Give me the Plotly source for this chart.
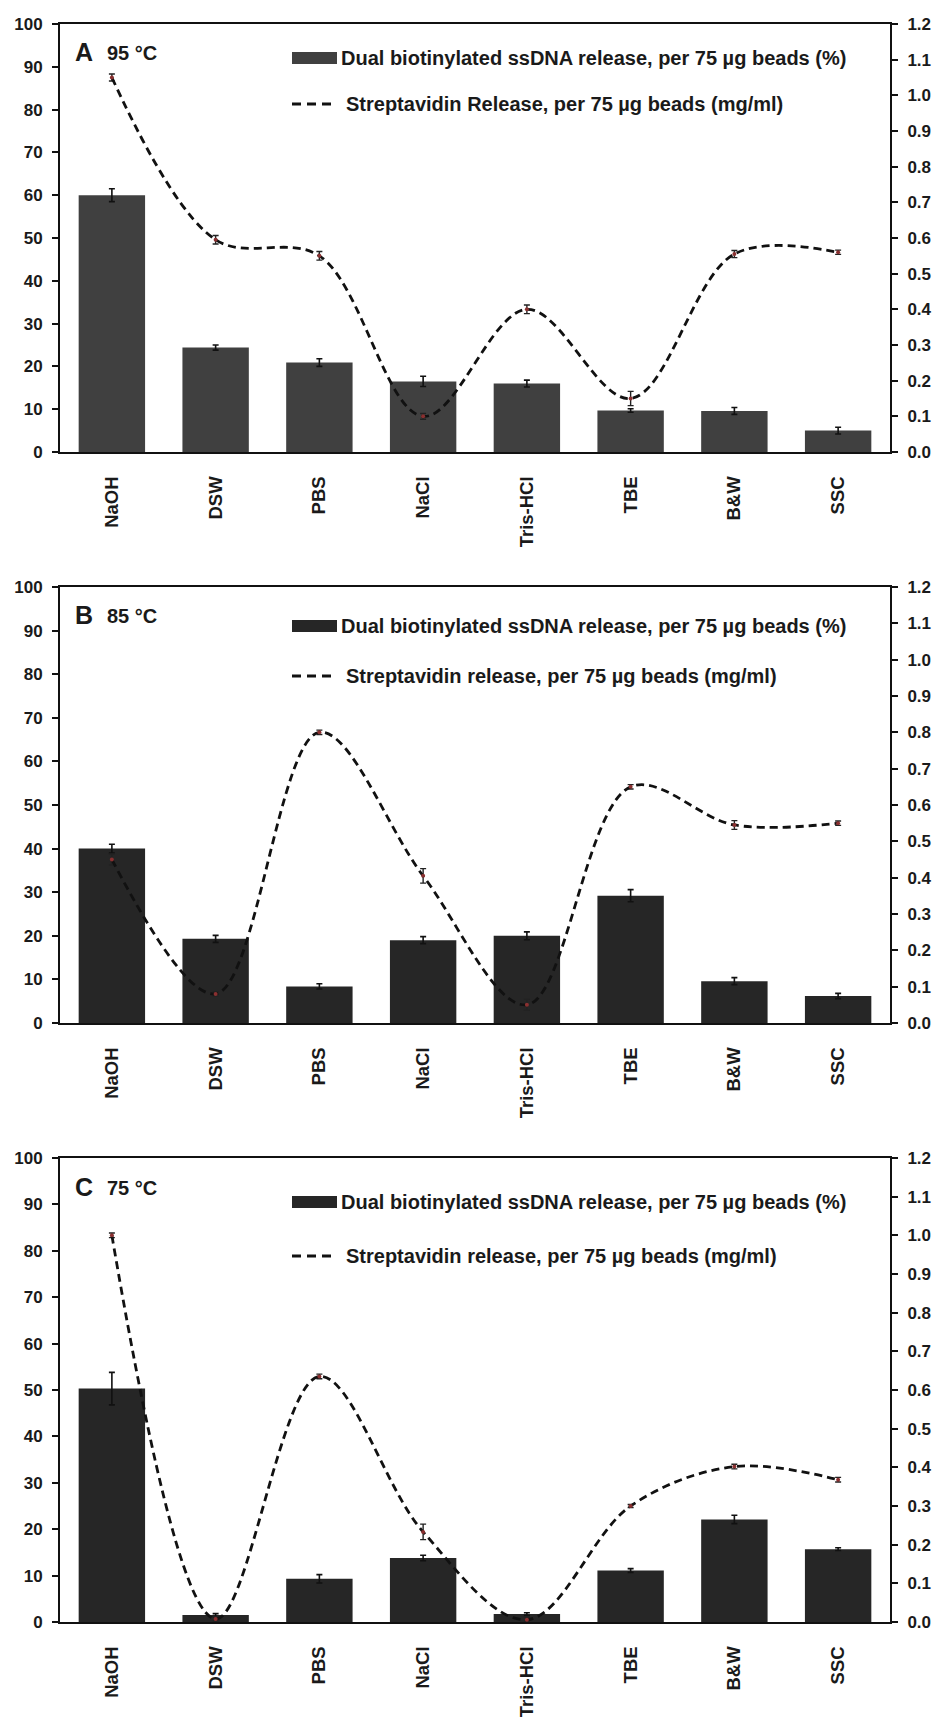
import plotly.graph_objects as go

W, H = 941, 1720

categories = ["NaOH", "DSW", "PBS", "NaCl", "Tris-HCl", "TBE", "B&W", "SSC"]

# Panel A (95 °C)
dna_A = [60.0, 24.4, 20.9, 16.5, 16.0, 9.7, 9.6, 5.0]
dna_A_err = [1.5, 0.6, 0.9, 1.2, 0.8, 0.4, 0.8, 0.8]
strep_A = [1.05, 0.595, 0.55, 0.10, 0.40, 0.15, 0.555, 0.56]
strep_A_err = [0.01, 0.012, 0.012, 0.008, 0.012, 0.02, 0.01, 0.006]

# Panel B (85 °C)
dna_B = [40.0, 19.3, 8.4, 19.0, 20.0, 29.2, 9.6, 6.2]
dna_B_err = [1.0, 0.8, 0.6, 0.8, 0.9, 1.4, 0.8, 0.6]
strep_B = [0.45, 0.08, 0.80, 0.405, 0.05, 0.65, 0.545, 0.55]
strep_B_err = [0.015, 0.006, 0.006, 0.02, 0.015, 0.006, 0.012, 0.006]

# Panel C (75 °C)
dna_C = [50.3, 1.5, 9.3, 13.8, 1.7, 11.1, 22.1, 15.7]
dna_C_err = [3.5, 0.3, 0.9, 0.6, 0.3, 0.4, 0.9, 0.3]
strep_C = [1.0, 0.008, 0.635, 0.233, 0.006, 0.30, 0.402, 0.368]
strep_C_err = [0.006, 0.006, 0.006, 0.02, 0.006, 0.004, 0.006, 0.006]

left_ticks = [0, 10, 20, 30, 40, 50, 60, 70, 80, 90, 100]
right_ticks = [0.0, 0.1, 0.2, 0.3, 0.4, 0.5, 0.6, 0.7, 0.8, 0.9, 1.0, 1.1, 1.2]
right_tick_text = [f"{v:.1f}" for v in right_ticks]

panel_letters = ["A", "B", "C"]
panel_temps = ["95 °C", "85 °C", "75 °C"]
legend_bar_text = "Dual biotinylated ssDNA release, per 75 µg beads (%)"
legend_line_texts = [
    "Streptavidin Release, per 75 µg beads (mg/ml)",
    "Streptavidin release, per 75 µg beads (mg/ml)",
    "Streptavidin release, per 75 µg beads (mg/ml)",
]

FONT = "Arial, 'Liberation Sans', Helvetica, sans-serif"
INK = "#1a1a1a"

def px_x(x):
    return x / W

def px_y(y):
    return 1 - y / H

# plot areas in pixels (top, bottom)
panels_px = [(24, 452), (587, 1023), (1158, 1622)]
x_left, x_right = 60, 890
bar_colors = ["#404040", "#262626", "#262626"]
legend_rows = [(58, 104), (626, 676), (1202, 1256)]
label_y = [52, 615, 1187]

datasets = [
    (dna_A, dna_A_err, strep_A, strep_A_err),
    (dna_B, dna_B_err, strep_B, strep_B_err),
    (dna_C, dna_C_err, strep_C, strep_C_err),
]

fig = go.Figure()
layout = dict(
    width=W, height=H,
    margin=dict(l=0, r=0, t=0, b=0),
    paper_bgcolor="white", plot_bgcolor="white",
    showlegend=False,
    font=dict(family=FONT, color=INK),
    shapes=[], annotations=[],
)

for i, (dna, dna_err, strep, strep_err) in enumerate(datasets):
    n = i + 1
    xa = "x" if n == 1 else f"x{n}"
    ya_p = f"y{2*n-1}" if n > 1 else "y"
    ya_s = f"y{2*n}"
    top, bot = panels_px[i]
    ydom = [px_y(bot), px_y(top)]
    xdom = [px_x(x_left), px_x(x_right)]

    fig.add_trace(go.Bar(
        x=categories, y=dna, xaxis=xa, yaxis=ya_p,
        marker=dict(color=bar_colors[i], line=dict(width=0)),
        width=0.64,
        error_y=dict(type="data", array=dna_err, color="#111111", thickness=1.6, width=3),
        name=legend_bar_text,
    ))
    fig.add_trace(go.Scatter(
        x=categories, y=strep, xaxis=xa, yaxis=ya_s,
        mode="lines+markers",
        line=dict(color="#111111", width=2.8, dash="8px,5px", shape="spline", smoothing=1.0),
        marker=dict(size=4, color="#8a3030"),
        error_y=dict(type="data", array=strep_err, color="#222222", thickness=1.4, width=3),
        name=legend_line_texts[i],
    ))

    xkey = "xaxis" if n == 1 else f"xaxis{n}"
    ykey_p = "yaxis" if n == 1 else f"yaxis{2*n-1}"
    ykey_s = f"yaxis{2*n}"

    layout[xkey] = dict(
        domain=xdom, anchor=ya_p, type="category",
        showline=True, linewidth=2, linecolor="#111111", mirror=True,
        ticks="", showgrid=False, zeroline=False,
        tickangle=-90, ticklabelstandoff=15,
        tickfont=dict(family=FONT, size=18.5, color=INK, weight="bold"),
        automargin=False, fixedrange=True,
    )
    layout[ykey_p] = dict(
        domain=ydom, anchor=xa, range=[0, 100],
        tickvals=left_ticks, ticktext=[str(v) for v in left_ticks],
        showline=True, linewidth=2, linecolor="#111111",
        ticks="outside", ticklen=6, tickwidth=2, tickcolor="#111111",
        ticklabelstandoff=6,
        showgrid=False, zeroline=False,
        tickfont=dict(family=FONT, size=17, color=INK, weight="bold"),
        automargin=False, fixedrange=True,
    )
    layout[ykey_s] = dict(
        domain=ydom, anchor=xa, overlaying=ya_p, side="right", range=[0, 1.2],
        tickvals=right_ticks, ticktext=right_tick_text,
        showline=True, linewidth=2, linecolor="#111111",
        ticks="outside", ticklen=6, tickwidth=2, tickcolor="#111111",
        ticklabelstandoff=6,
        showgrid=False, zeroline=False,
        tickfont=dict(family=FONT, size=17, color=INK, weight="bold"),
        automargin=False, fixedrange=True,
    )

    # panel label
    layout["annotations"].append(dict(
        xref="paper", yref="paper", x=px_x(73), y=px_y(label_y[i]),
        xanchor="left", yanchor="middle", showarrow=False,
        text=panel_letters[i],
        font=dict(family=FONT, size=25, color=INK, weight="bold"),
    ))
    layout["annotations"].append(dict(
        xref="paper", yref="paper", x=px_x(105), y=px_y(label_y[i] + 1),
        xanchor="left", yanchor="middle", showarrow=False,
        text=panel_temps[i],
        font=dict(family=FONT, size=20, color=INK, weight="bold"),
    ))

    # legend (manual)
    ly1, ly2 = legend_rows[i]
    sx0, sx1 = 292, 337
    layout["shapes"].append(dict(
        type="rect", xref="paper", yref="paper",
        x0=px_x(sx0), x1=px_x(sx1), y0=px_y(ly1 + 6), y1=px_y(ly1 - 6),
        fillcolor=bar_colors[i], line=dict(width=0),
    ))
    layout["annotations"].append(dict(
        xref="paper", yref="paper", x=px_x(sx1 + 2), y=px_y(ly1),
        xanchor="left", yanchor="middle", showarrow=False,
        text=legend_bar_text,
        font=dict(family=FONT, size=20, color=INK, weight="bold"),
    ))
    layout["shapes"].append(dict(
        type="line", xref="paper", yref="paper",
        x0=px_x(sx0), x1=px_x(sx1), y0=px_y(ly2), y1=px_y(ly2),
        line=dict(color="#111111", width=3, dash="9px,6px"),
    ))
    layout["annotations"].append(dict(
        xref="paper", yref="paper", x=px_x(sx1 + 7), y=px_y(ly2),
        xanchor="left", yanchor="middle", showarrow=False,
        text=legend_line_texts[i],
        font=dict(family=FONT, size=20, color=INK, weight="bold"),
    ))

fig.update_layout(**layout)
fig.write_html(
    "out.html",
    config={"displayModeBar": False},
    post_script="document.body.style.margin='0';document.body.style.overflow='hidden';",
)
